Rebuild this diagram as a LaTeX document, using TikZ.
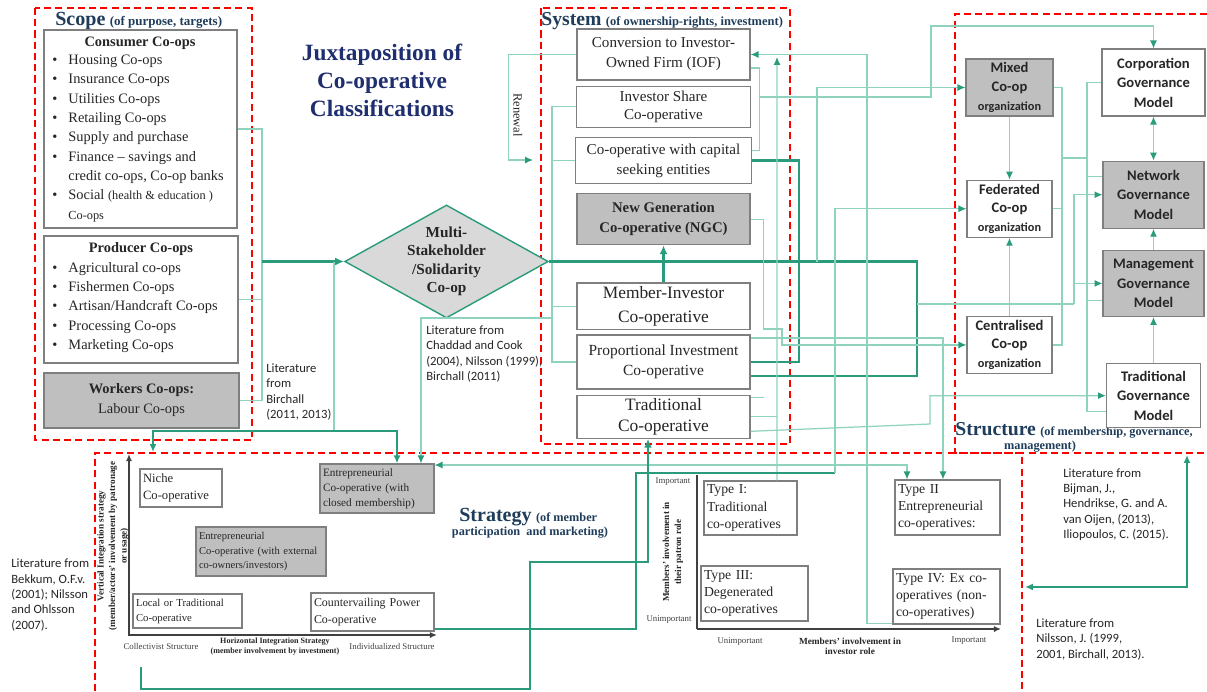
\documentclass[tikz,border=0pt]{standalone}
\usepackage{fontspec}
\setmainfont{Liberation Serif}
\newfontfamily\calib{Carlito}
\usetikzlibrary{shapes.geometric,arrows.meta,positioning}

\definecolor{cgreen}{HTML}{2A9B7B}
\definecolor{cgreenL}{HTML}{8FD3BE}
\definecolor{cnavy}{HTML}{1F2E6E}
\definecolor{cslate}{HTML}{1F3D5B}
\definecolor{boxline}{HTML}{7F7F7F}
\definecolor{shade}{HTML}{BFBFBF}
\definecolor{dshade}{HTML}{D9D9D9}
\definecolor{ink}{HTML}{262626}
\definecolor{axisc}{HTML}{404040}

\newcommand\fsz[2]{\fontsize{#1}{#2}\selectfont}
\newcommand\itm{\textbullet\hspace{6.3pt}}
\newcommand\itmc{\phantom{\textbullet}\hspace{6.3pt}}

\begin{document}
\begin{tikzpicture}[x=0.02cm, y=-0.02cm,
  every node/.style={text=ink},
  zone/.style={draw=red, line width=1.1pt, dash pattern=on 4pt off 2.4pt},
  plainbox/.style={draw=boxline, line width=0.7pt, fill=white, inner sep=0pt, align=center},
  sysbox/.style={plainbox, minimum width=3.46cm, font=\fsz{8.6}{11.4}},
  govbox/.style={plainbox, font=\calib\bfseries\fsz{8.3}{10.6}},
  stratbox/.style={plainbox, align=left, inner xsep=0.06cm, inner ysep=0pt},
  litnote/.style={font=\calib\fsz{7.2}{8.7}, text=ink, align=left, anchor=west, inner sep=0pt},
  ztitle/.style={anchor=base west, inner sep=0pt, text=cslate, font=\bfseries},
  axlabel/.style={font=\fsz{5}{5.7}, text=axisc, inner sep=0pt, align=center},
  axis/.style={draw=axisc, line width=1.2pt},
  link/.style={draw=cgreenL, line width=0.7pt},
  larr/.style={link, -{Latex[length=4.5pt,width=4pt,color=cgreen]}},
  larr2/.style={link, {Latex[length=4.5pt,width=4pt,color=cgreen]}-{Latex[length=4.5pt,width=4pt,color=cgreen]}},
  arr/.style={draw=cgreen, line width=0.9pt, -{Latex[length=4.5pt,width=4pt]}},
  arr2/.style={draw=cgreen, line width=0.9pt, {Latex[length=4.5pt,width=4pt]}-{Latex[length=4.5pt,width=4pt]}},
  bus/.style={draw=cgreen, line width=1.3pt},
  arrT/.style={bus, -{Latex[length=5pt,width=4.5pt]}}]

\fill[white] (0,0) rectangle (1207,691);
\useasboundingbox (0,0) rectangle (1207,691);

% zones
\draw[zone] (35,8) rectangle (252,440);
\draw[zone] (541,8) rectangle (790,444);
\draw[zone] (1207,14) -- (955,14) -- (955,453) -- (1207,453);
\draw[zone] (95,691) -- (95,453) -- (1022,453) -- (1022,691);

% scope
\node[ztitle] (scopeT) at (55,25) {{\fsz{11.4}{13}Scope} {\fsz{7.4}{9}(of purpose, targets)}};
\node[plainbox, minimum width=3.86cm, minimum height=3.96cm] (cons) at (140.5,129) {};
\node[font=\bfseries\fsz{8.2}{11}, inner sep=0pt] (consT) at (140,43) {Consumer Co-ops};
\node[font=\fsz{8.2}{11}, align=left, anchor=west, inner sep=0pt] (consL) at (52,138.5) {%
  \itm Housing Co-ops\\
  \itm Insurance Co-ops\\
  \itm Utilities Co-ops\\
  \itm Retailing Co-ops\\
  \itm Supply and purchase\\
  \itm Finance -- savings and\\
  \itmc credit co-ops, Co-op banks\\
  \itm Social {\fsz{7}{11}(health \& education )}\\
  \itmc {\fsz{7}{11}Co-ops}};
\node[plainbox, minimum width=3.88cm, minimum height=2.54cm] (prod) at (141,299.5) {};
\node[font=\bfseries\fsz{8.2}{11}, inner sep=0pt] (prodT) at (141,249) {Producer Co-ops};
\node[font=\fsz{8.2}{11}, align=left, anchor=west, inner sep=0pt] (prodL) at (52,307.5) {%
  \itm Agricultural co-ops\\
  \itm Fishermen Co-ops\\
  \itm Artisan/Handcraft Co-ops\\
  \itm Processing Co-ops\\
  \itm Marketing Co-ops};
\node[plainbox, fill=shade, minimum width=3.9cm, minimum height=1.1cm, font=\fsz{8.2}{11.4}] (work) at (141.5,400.5) {\textbf{Workers Co-ops:}\\Labour Co-ops};

\node[font=\bfseries\fsz{13.3}{16}, text=cnavy, align=center] (jux) at (382,80) {Juxtaposition of\\Co-operative\\Classifications};

\node[diamond, aspect=1.8, draw=cgreen, line width=0.8pt, fill=dshade, inner sep=0pt,
  minimum width=4.06cm, minimum height=2.26cm, font=\bfseries\fsz{8.7}{10.5}, align=center] (msc) at (446.5,261.5) {Multi-\\Stakeholder\\/Solidarity\\Co-op};

\node[litnote] (litB) at (266,392) {Literature\\from\\Birchall\\(2011, 2013)};
\node[litnote] (litC) at (426,354) {Literature from\\Chaddad and Cook\\(2004), Nilsson (1999),\\Birchall (2011)};

% system
\node[ztitle] (sysT) at (541,25) {{\fsz{11.2}{13}System} {\fsz{7.1}{9}(of ownership-rights, investment)}};
\node[sysbox, minimum height=1.02cm] (conv) at (663.5,54.5) {Conversion to Investor-\\Owned Firm (IOF)};
\node[sysbox, minimum width=3.48cm, minimum height=0.82cm, font=\fsz{8.6}{10.2}, below=0.1cm of conv] (isc) {Investor Share\\Co-operative};
\node[sysbox, minimum width=3.52cm, minimum height=0.92cm, below=0.18cm of isc] (cwc) {Co-operative with capital\\seeking entities};
\node[sysbox, fill=shade, minimum height=1.02cm, font=\bfseries\fsz{8.4}{11.4}, below=0.18cm of cwc] (ngc) {New Generation\\Co-operative (NGC)};
\node[sysbox, minimum height=0.94cm, font=\fsz{9.9}{13.7}, below=0.74cm of ngc] (mic) {Member-Investor\\Co-operative};
\node[sysbox, minimum height=1.08cm, font=\fsz{8.8}{11.4}, below=0.08cm of mic] (pic) {Proportional Investment\\Co-operative};
\node[sysbox, minimum height=0.86cm, font=\fsz{9.9}{12}, below=0.1cm of pic] (trc) {Traditional\\Co-operative};
\node[rotate=-90, font=\fsz{7.1}{8}, inner sep=0pt] (renT) at (518,115) {Renewal};

% structure
\node[ztitle] (strucT) at (955,435) {{\fsz{11.2}{13}Structure} {\fsz{7}{9}(of membership, governance,}};
\node[font=\bfseries\fsz{7}{9}, text=cslate, inner sep=0pt] (strucT2) at (1040,447) {management)};
\node[govbox, fill=shade, minimum width=1.74cm, minimum height=1.14cm] (mixed) at (1009.5,87.5) {Mixed\\Co-op\\{\fsz{7}{9}organization}};
\node[govbox, minimum width=1.7cm, minimum height=1.14cm, below=1.26cm of mixed] (fed) {Federated\\Co-op\\{\fsz{7}{9}organization}};
\node[govbox, minimum width=1.7cm, minimum height=1.14cm, below=1.56cm of fed] (cen) {Centralised\\Co-op\\{\fsz{7}{9}organization}};
\node[govbox, minimum width=2.06cm, minimum height=1.34cm, font=\calib\bfseries\fsz{8.3}{11.1}] (corp) at (1153.5,82.5) {Corporation\\Governance\\Model};
\node[govbox, fill=shade, minimum width=2.02cm, minimum height=1.34cm, font=\calib\bfseries\fsz{8.3}{11.1}, below=0.88cm of corp] (net) {Network\\Governance\\Model};
\node[govbox, fill=shade, minimum width=2.02cm, minimum height=1.32cm, font=\calib\bfseries\fsz{8.3}{11.1}, below=0.42cm of net] (man) {Management\\Governance\\Model};
\node[govbox, minimum width=1.88cm, minimum height=1.28cm, font=\calib\bfseries\fsz{8.3}{11.1}, below=0.92cm of man] (tgm) {Traditional\\Governance\\Model};

% strategy
\node[ztitle] (stratT) at (459,521) {{\fsz{11.4}{13}Strategy} {\fsz{7}{9}(of member}};
\node[font=\bfseries\fsz{7}{9}, text=cslate, inner sep=0pt] (stratT2) at (530,533) {participation\ \ and marketing)};

\node[stratbox, text width=1.52cm, minimum height=0.76cm, font=\fsz{7.2}{9.7}] (niche) at (181,488) {Niche\\Co-operative};
\node[stratbox, fill=shade, text width=2.16cm, minimum height=0.98cm, font=\fsz{6.4}{8.5}] (ecm) at (377,488.5) {Entrepreneurial\\Co-operative (with\\closed membership)};
\node[stratbox, fill=shade, text width=2.48cm, minimum height=0.98cm, font=\fsz{6}{8.5}] (ece) at (261,551.5) {Entrepreneurial\\Co-operative (with external\\co-owners/investors)};
\node[stratbox, text width=2.06cm, minimum height=0.68cm, font=\fsz{6.1}{8.5}] (ltc) at (187.5,611) {Local or Traditional\\Co-operative};
\node[stratbox, text width=2.34cm, minimum height=0.76cm, font=\fsz{6.8}{9.7}] (cvp) at (372.5,612) {Countervailing Power\\Co-operative};

\node[stratbox, text width=1.74cm, minimum height=1.08cm, font=\fsz{7.8}{9.7}] (t1) at (750.5,508) {Type I:\\Traditional\\co-operatives};
\node[stratbox, text width=2.02cm, minimum height=1.1cm, font=\fsz{7.8}{9.7}] (t3) at (754.5,593.5) {Type III:\\Degenerated\\co-operatives};
\node[stratbox, text width=1.98cm, minimum height=1.1cm, font=\fsz{7.8}{9.7}] (t2) at (947.5,507.5) {Type II\\Entrepreneurial\\co-operatives:};
\node[stratbox, text width=2.02cm, minimum height=1.1cm, font=\fsz{7.8}{9.7}] (t4) at (946.5,596.5) {Type IV: Ex co-\\operatives (non-\\co-operatives)};

% axes
\coordinate (vO) at (129,635);
\coordinate (vY) at (129,454);
\coordinate (vX) at (437,635);
\draw[axis, {Latex[length=4pt,width=3.5pt]}-{Latex[length=4pt,width=3.5pt]}] (vY) -- (vO) -- (vX);
\coordinate (wO) at (697,629);
\coordinate (wY) at (697,475);
\coordinate (wX) at (1001,629);
\draw[draw=axisc, line width=0.6pt] (wY) -- (wO);
\draw[axis, -{Latex[length=4pt,width=3.5pt]}] (wO) -- (wX);

\node[axlabel, font=\bfseries\fsz{5.2}{6.5}, text=ink, rotate=90] (vlab) at (113,546) {Vertical Integration strategy\\(member/actors' involvement by patronage\\or usage)};
\node[axlabel] (colS) at (161,646) {Collectivist Structure};
\node[axlabel, font=\bfseries\fsz{4.6}{5.7}, text=ink] (hlab) at (275,647) {Horizontal Integration Strategy\\(member involvement by investment)};
\node[axlabel] (indS) at (392,646) {Individualized Structure};
\node[axlabel] (impV) at (673,482) {Important};
\node[axlabel] (unV) at (669,620) {Unimportant};
\node[axlabel, font=\bfseries\fsz{5.2}{6.8}, text=ink, rotate=90] (plab) at (673,552) {Members' involvement in\\their patron role};
\node[axlabel] (unH) at (740,642) {Unimportant};
\node[axlabel, font=\bfseries\fsz{5.3}{5.8}, text=ink] (ilab) at (850,646) {Members' involvement in\\investor role};
\node[axlabel] (impH) at (969,641) {Important};

\node[litnote] (litK) at (11,595) {Literature from\\Bekkum, O.F.v.\\(2001); Nilsson\\and Ohlsson\\(2007).};
\node[litnote] (litH) at (1063,504.5) {Literature from\\Bijman, J.,\\Hendrikse, G. and A.\\van Oijen, (2013),\\Iliopoulos, C. (2015).};
\node[litnote] (litN) at (1036,639.5) {Literature from\\Nilsson, J. (1999,\\2001, Birchall, 2013).};

% scope to diamond and strategy
\coordinate (sbus) at (262,261.5);
\draw[link] (cons.east) -| (sbus);
\draw[link] (work.east) -| (sbus);
\draw[link] (prod.east) -- (prod.east -| sbus);
\draw[arrT] (sbus) -- (msc.west);
\coordinate (jA) at (334,261.5);
\coordinate (jB) at (334,431);
\coordinate (stratIn) at (153,452);
\draw[link] (jA) -- (jB);
\draw[arr] (jB) -| (stratIn);
\draw[arr] (jB) -| ([xshift=0.4cm]ecm.north);

% system links
\coordinate (sysbus) at (552,318);
\draw[link] (isc.west) -| (sysbus) |- (pic.west);
\draw[link] (cwc.west) -- (cwc.west -| sysbus);
\draw[link] (mic.west) -- (mic.west -| sysbus);
\draw[larr] (sysbus) -| ([xshift=0.88cm]ecm.north);
\coordinate (ren) at (533,160);
\draw[larr] (conv.west) -- ++(-68,0) |- (ren);

\coordinate (jD) at (917,261.5);
\draw[bus] (msc.east) -- (jD) |- ([yshift=-0.28cm]pic.east);
\draw[arrT] (mic.north) -- (mic.north |- ngc.south);
\draw[bus] (cwc.east) -- ++(47,0) |- (pic.east);
\coordinate (jE) at (817,261.5);
\draw[larr] (jE) |- (mixed.west);
\coordinate (jF) at (917,304);
\coordinate (jG) at (1074,304);
\draw[link] (jF) -- (jG);
\draw[larr] (jG) |- (net.west);
\draw[larr] (jG |- man.west) -- (man.west);

\draw[link] ([yshift=-0.27cm]conv.east) -- ++(9,0) |- ([yshift=0.2cm]cwc.east);
\coordinate (jH) at (759,97);
\coordinate (jI) at (931,26);
\draw[larr] (jH) -| (jI) -| (corp.north);

\coordinate (jJ) at (867,54.5);
\draw[larr] ([yshift=-0.54cm]t4.west) -| (jJ) -- (conv.east);
\coordinate (jK) at (777,57);
\draw[larr] ([xshift=0.53cm]t1.north) -- (jK);
\draw[link] (trc.east) -- (trc.east -| jK);
\draw[link] ([yshift=0.39cm]trc.east) -- ++(13,0);
\coordinate (jL) at (930,424);
\draw[larr] ([yshift=-0.29cm]trc.east) -- (jL) |- (tgm.west);
\coordinate (jM) at (782,329);
\draw[larr] (ngc.east) -- ++(13,0) |- (jM) |- (cen.west);
\draw[larr] ([yshift=0.48cm]pic.east) -| ([xshift=-0.09cm]t2.north);
\draw[larr2] ([yshift=0.47cm]ecm.east) -| ([xshift=-0.81cm]t2.north);

% strategy links
\coordinate (jP) at (636,473);
\coordinate (jQ) at (835,473);
\draw[bus] ([yshift=-0.34cm]cvp.east) -| (jP) -- (jQ);
\draw[larr] (jQ) |- (fed.west);
\coordinate (jR) at (141,667);
\coordinate (jS) at (530,689);
\coordinate (jT) at (648,562);
\draw[arrT] (jR) |- (jS) |- (jT) -- (trc.south -| jT);
\coordinate (jU) at (1187,455);
\coordinate (jV) at (1025,587);
\draw[arr2] (jV) -| (jU);

% structure links
\draw[larr] (mixed.south) -- (fed.north);
\draw[larr] (cen.north) -- (fed.south);
\draw[larr2] (corp.south) -- (corp.south |- net.north);
\draw[larr] (man.north) -- (man.north |- net.south);
\draw[larr] (tgm.north -| man.south) -- (man.south);
\coordinate (sx1) at (1062,158);
\coordinate (sx2) at (1087,158);
\draw[link] (mixed.east) -| (sx1) |- (cen.east);
\draw[link] (fed.east) -- (fed.east -| sx1);
\draw[link] (sx1) -- (sx2);
\draw[link] (corp.west) -| (sx2) |- ([yshift=-0.32cm]tgm.west);
\draw[link] ([yshift=0.37cm]net.west) -- ([yshift=0.37cm]net.west -| sx2);
\draw[link] ([yshift=-0.34cm]man.west) -- ([yshift=-0.34cm]man.west -| sx2);
\end{tikzpicture}
\end{document}
